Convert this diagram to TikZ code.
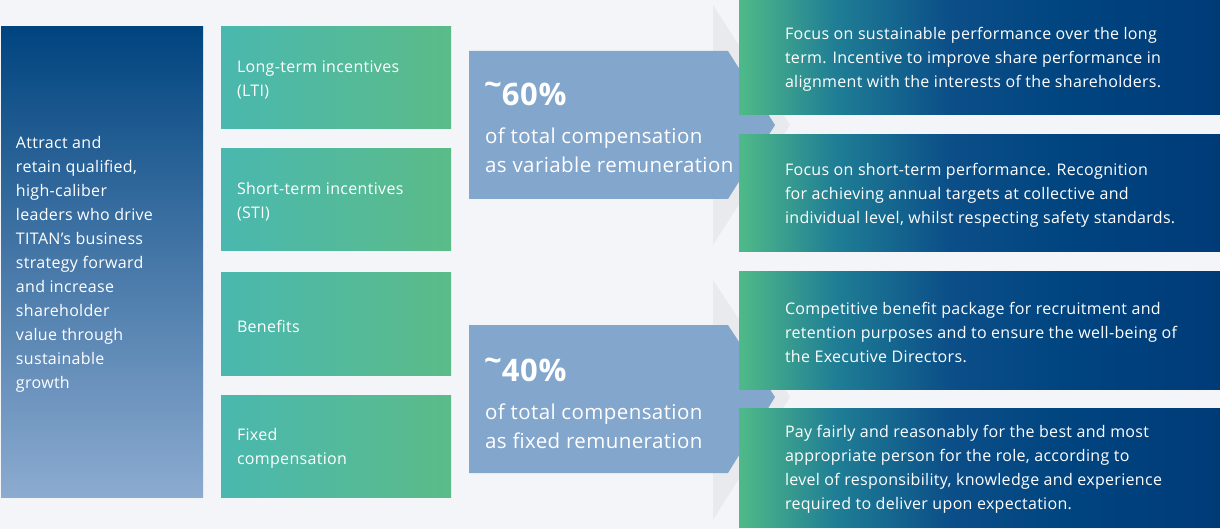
\documentclass[tikz,border=0pt]{standalone}
\usepackage{fontspec}
\setmainfont{Open Sans}[LetterSpace=2]
\usetikzlibrary{positioning}

\definecolor{bg}{HTML}{F3F5F9}
\definecolor{navy}{HTML}{00447F}
\definecolor{sky}{HTML}{8CABD0}
\definecolor{teal1}{HTML}{4AB8AF}
\definecolor{green1}{HTML}{5BBB88}
\definecolor{steel}{HTML}{83A6CD}
\definecolor{fold}{HTML}{E9EAED}
\definecolor{leafgreen}{HTML}{4FBA88}
\definecolor{seablue}{HTML}{1F7E95}
\definecolor{deepblue}{HTML}{0B4E88}
\definecolor{darknavy}{HTML}{003B78}

\pgfdeclarehorizontalshading{rowfade}{100bp}{color(0bp)=(leafgreen); color(25bp)=(leafgreen);
  color(35bp)=(seablue); color(47bp)=(deepblue); color(60bp)=(navy); color(75bp)=(darknavy);
  color(100bp)=(darknavy)}

\newcommand{\about}{\raisebox{.3em}{\textasciitilde}}

\begin{document}
\begin{tikzpicture}[x=1pt,y=-1pt,
  goalbox/.style={inner sep=0pt,minimum width=202pt,minimum height=470pt,top color=navy,bottom color=sky},
  partbox/.style={inner sep=0pt,minimum width=230pt,minimum height=102pt,left color=teal1,right color=green1},
  aimbox/.style={inner sep=0pt,minimum width=481pt,minimum height=#1,shading=rowfade},
  txt/.style={inner sep=0pt,yshift=-2pt,text=white,align=left,font=\fontsize{16}{24}\selectfont},
  pct/.style={inner sep=0pt,text=white,font=\fontsize{31}{31}\selectfont\bfseries},
  share/.style={inner sep=0pt,text=white,align=left,font=\fontsize{20.5}{29}\selectfont}]

%background
\fill[bg] (0,0) rectangle (1220,529);
\useasboundingbox (0,0) rectangle (1220,529);

%goal
\node[goalbox] (goal) at (102,262) {};
\node[txt,right=15pt of goal.west] (goaltxt) {Attract and\\retain qualified,\\high-caliber\\leaders who drive\\TITAN's business\\strategy forward\\and increase\\shareholder\\value through\\sustainable\\growth};

%parts of the package
\node[partbox] (lti) at (336,78) {};
\node[partbox] (sti) at (336,200) {};
\node[partbox] (ben) at (336,324) {};
\node[partbox] (fix) at (336,446) {};
\node[txt,right=16pt of lti.west] (ltitxt) {Long-term incentives\\(LTI)};
\node[txt,right=16pt of sti.west] (stitxt) {Short-term incentives\\(STI)};
\node[txt,right=16pt of ben.west] (bentxt) {Benefits};
\node[txt,right=16pt of fix.west] (fixtxt) {Fixed\\compensation};

%folds behind the arrows
\fill[fold] (713,5) -- (790,125) -- (713,245) -- cycle;
\fill[fold] (713,280) -- (790,397) -- (713,520) -- cycle;

%arrows
\fill[steel] (469,51) -- (728,51) -- (775,125) -- (728,199) -- (469,199) -- cycle;
\fill[steel] (469,325) -- (728,325) -- (775,397) -- (728,473) -- (469,473) -- cycle;
\node[pct,anchor=west] (varpct) at (484,94) {\about60\%};
\node[share,anchor=west] (varshare) at (485,150) {of total compensation\\as variable remuneration};
\node[pct,anchor=west] (fixpct) at (484,370) {\about40\%};
\node[share,anchor=west] (fixshare) at (485,426) {of total compensation\\as fixed remuneration};

%aims
\node[aimbox=115pt] (aim1) at (979.5,57.5) {};
\node[aimbox=117pt] (aim2) at (979.5,193.5) {};
\node[aimbox=117pt] (aim3) at (979.5,330.5) {};
\node[aimbox=119pt] (aim4) at (979.5,467.5) {};
\node[txt,right=46pt of aim1.west] (aim1txt) {Focus on sustainable performance over the long\\term. Incentive to improve share performance in\\alignment with the interests of the shareholders.};
\node[txt,right=46pt of aim2.west] (aim2txt) {Focus on short-term performance. Recognition\\for achieving annual targets at collective and\\individual level, whilst respecting safety standards.};
\node[txt,right=46pt of aim3.west] (aim3txt) {Competitive benefit package for recruitment and\\retention purposes and to ensure the well-being of\\the Executive Directors.};
\node[txt,right=46pt of aim4.west] (aim4txt) {Pay fairly and reasonably for the best and most\\appropriate person for the role, according to\\level of responsibility, knowledge and experience\\required to deliver upon expectation.};
\end{tikzpicture}
\end{document}
